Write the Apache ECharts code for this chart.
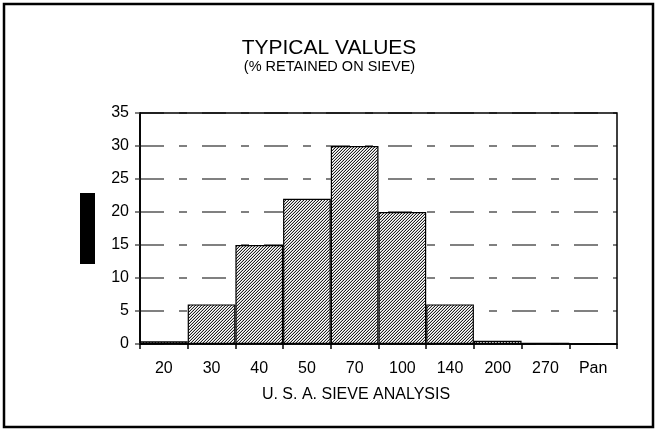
<!DOCTYPE html>
<html>
<head>
<meta charset="utf-8">
<script src="https://cdn.jsdelivr.net/npm/echarts@6/dist/echarts.min.js"></script>
<style>
html,body{margin:0;padding:0;background:#fff;}
#chart{width:657px;height:432px;}
</style>
</head>
<body>
<div id="chart"></div>
<script>
var categories = ['20','30','40','50','70','100','140','200','270','Pan'];
var retained = [0.4, 6, 15, 22, 30, 20, 6, 0.5, 0.2, 0];
var yTicks = {min: 0, max: 35, interval: 5};
var titleText = 'TYPICAL VALUES';
var subtitleText = '(% RETAINED ON SIEVE)';
var xAxisName = 'U. S. A. SIEVE ANALYSIS';

function hatch() {
  var c = document.createElement('canvas');
  c.width = 3; c.height = 3;
  var ctx = c.getContext('2d');
  ctx.fillStyle = '#ffffff';
  ctx.fillRect(0, 0, 3, 3);
  for (var x = 0; x < 3; x++) {
    for (var y = 0; y < 3; y++) {
      if ((x + y) % 3 === 2) { ctx.fillStyle = '#222222'; ctx.fillRect(x, y, 1, 1); }
      else if ((x + y) % 3 === 1) { ctx.fillStyle = '#c8c8c8'; ctx.fillRect(x, y, 1, 1); }
    }
  }
  return c;
}

var chart = echarts.init(document.getElementById('chart'), null, {renderer: 'canvas'});
var font = 'Arial, "Liberation Sans", Helvetica, sans-serif';
chart.setOption({
  animation: false,
  backgroundColor: '#ffffff',
  grid: {left: 140, right: 40, top: 113, bottom: 88, show: false},
  xAxis: {
    type: 'category',
    data: categories,
    boundaryGap: true,
    axisLine: {show: true, lineStyle: {color: '#000', width: 1.5}},
    axisTick: {show: true, alignWithLabel: false, length: 5, lineStyle: {color: '#000', width: 1.5}},
    axisLabel: {color: '#000', fontFamily: font, fontSize: 16, margin: 17},
    splitLine: {show: false}
  },
  yAxis: {
    type: 'value',
    min: yTicks.min, max: yTicks.max, interval: yTicks.interval,
    axisLine: {show: true, lineStyle: {color: '#222', width: 2}},
    axisTick: {show: true, length: 5, lineStyle: {color: '#808080', width: 2}},
    axisLabel: {color: '#000', fontFamily: font, fontSize: 16, margin: 11},
    splitLine: {show: true, lineStyle: {color: '#808080', width: 2, type: [24, 15, 8, 15], dashOffset: 0}}
  },
  series: [{
    type: 'bar',
    data: retained,
    barCategoryGap: '0%',
    itemStyle: {color: {image: hatch(), repeat: 'repeat'}, borderColor: '#000', borderWidth: 1.2},
    z: 3
  }],
  graphic: [
    {type: 'rect', shape: {x: 4, y: 4, width: 649, height: 423}, style: {fill: null, stroke: '#000', lineWidth: 2.5}, z: 100},
    {type: 'rect', shape: {x: 140, y: 113, width: 477, height: 231}, style: {fill: null, stroke: '#000', lineWidth: 1.5}, z: 100},
    {type: 'rect', shape: {x: 80, y: 193, width: 15, height: 71}, style: {fill: '#000'}, z: 100},
    {type: 'text', x: 329, y: 48.5, style: {text: titleText, fill: '#000', font: '21px ' + font, textAlign: 'center', textVerticalAlign: 'middle'}, z: 100},
    {type: 'text', x: 329.5, y: 67, style: {text: subtitleText, fill: '#000', font: '14.5px ' + font, textAlign: 'center', textVerticalAlign: 'middle'}, z: 100},
    {type: 'text', x: 356, y: 395, style: {text: xAxisName, fill: '#000', font: '16px ' + font, textAlign: 'center', textVerticalAlign: 'middle'}, z: 100}
  ]
});
</script>
</body>
</html>
